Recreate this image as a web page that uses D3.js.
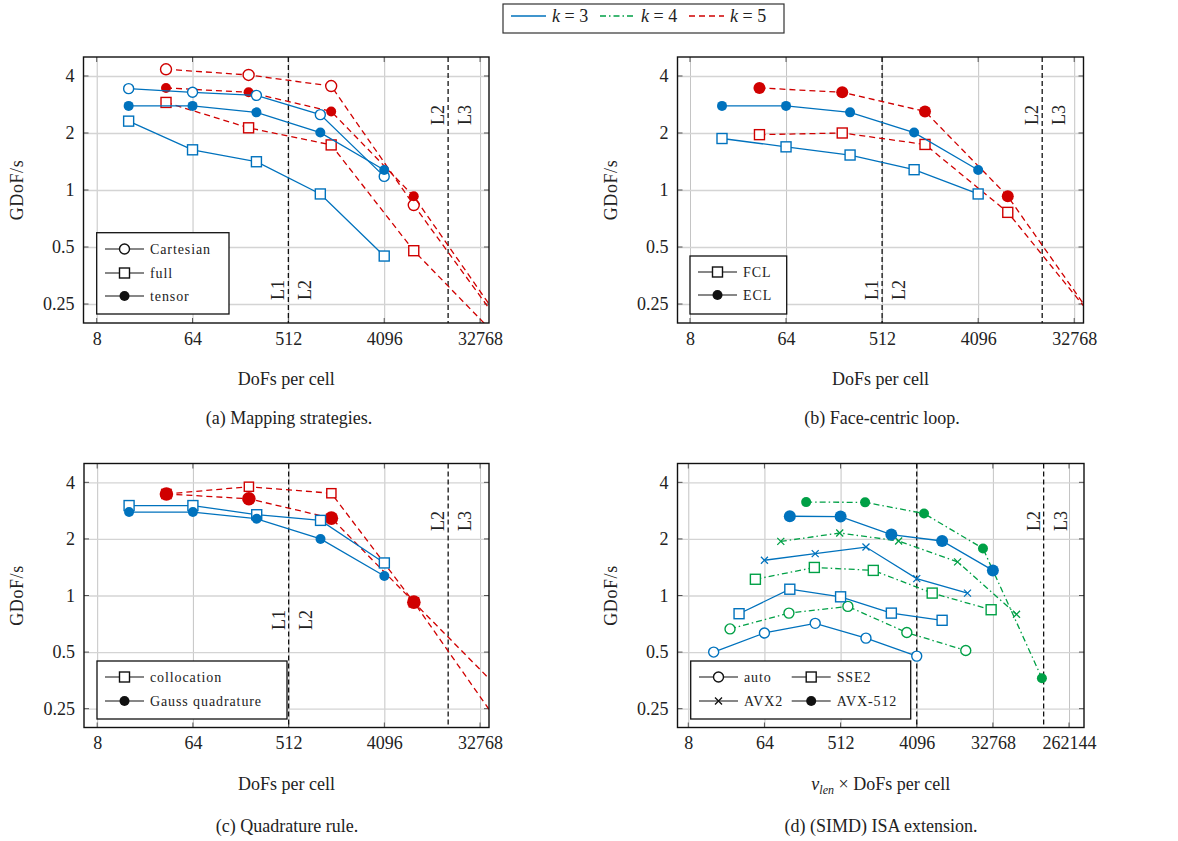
<!DOCTYPE html>
<html>
<head>
<meta charset="utf-8">
<script src="https://cdn.jsdelivr.net/npm/d3@7"></script>
<style>
  body { margin: 0; background: #fff; }
  svg text { font-family: "Liberation Serif", "DejaVu Serif", serif; fill: #222; }
</style>
</head>
<body>
<svg id="chart" width="1178" height="841"></svg>
<script>
// ---- data ----
var k3Dofs = [16, 64, 256, 1024, 4096];
var k5Dofs = [36, 216, 1296, 7776, 46656];

var xTicksABC = [8, 64, 512, 4096, 32768];
var xTicksD = [8, 64, 512, 4096, 32768, 262144];
var yTicks = [0.25, 0.5, 1, 2, 4];

var cacheLinesABC = [512, 16384];
var cacheLinesD = [4096, 131072];

// (a) mapping strategies
var aK3Cartesian = [3.43, 3.28, 3.16, 2.50, 1.18];
var aK3Full      = [2.31, 1.63, 1.41, 0.953, 0.448];
var aK3Tensor    = [2.78, 2.78, 2.57, 2.01, 1.275];
var aK5Cartesian = [4.34, 4.05, 3.54, 0.833, 0.21];
var aK5Full      = [2.90, 2.13, 1.73, 0.478, 0.17];
var aK5Tensor    = [3.46, 3.28, 2.60, 0.926, 0.22];

// (b) face-centric loop
var bK3FCL = [1.87, 1.69, 1.53, 1.28, 0.953];
var bK3ECL = [2.78, 2.78, 2.57, 2.01, 1.275];
var bK5FCL = [1.96, 2.00, 1.74, 0.762, 0.22];
var bK5ECL = [3.46, 3.28, 2.60, 0.926, 0.222];

// (c) quadrature rule
var cK3Colloc = [3.01, 3.01, 2.69, 2.51, 1.49];
var cK3Gauss  = [2.78, 2.78, 2.56, 2.00, 1.27];
var cK5Colloc = [3.47, 3.79, 3.50, 0.92, 0.33];
var cK5Gauss  = [3.47, 3.27, 2.58, 0.922, 0.218];

// (d) ISA extension, x = vlen * DoFs per cell
var dK3AutoX   = [16, 64, 256, 1024, 4096];
var dK3SSE2X   = [32, 128, 512, 2048, 8192];
var dK3AVX2X   = [64, 256, 1024, 4096, 16384];
var dK3AVX512X = [128, 512, 2048, 8192, 32768];
var dK4AutoX   = [25, 125, 625, 3125, 15625];
var dK4SSE2X   = [50, 250, 1250, 6250, 31250];
var dK4AVX2X   = [100, 500, 2500, 12500, 62500];
var dK4AVX512X = [200, 1000, 5000, 25000, 125000];

var dK3Auto   = [0.50, 0.632, 0.711, 0.593, 0.476];
var dK3SSE2   = [0.80, 1.08, 0.984, 0.806, 0.738];
var dK3AVX2   = [1.54, 1.67, 1.81, 1.23, 1.03];
var dK3AVX512 = [2.64, 2.63, 2.11, 1.95, 1.36];
var dK4Auto   = [0.664, 0.806, 0.875, 0.635, 0.51];
var dK4SSE2   = [1.22, 1.41, 1.36, 1.03, 0.84];
var dK4AVX2   = [1.94, 2.15, 1.95, 1.51, 0.794];
var dK4AVX512 = [3.14, 3.13, 2.73, 1.78, 0.363];

// ---- styles ----
var colors = {3: "#0072bd", 4: "#00a046", 5: "#d00000"};
var dashes = {3: null, 4: "6,3,1.5,3", 5: "6,4"};

var svg = d3.select("#chart");

function addMarker(g, type, cx, cy, r, color) {
  if (type === "circle") {
    g.append("circle").attr("cx", cx).attr("cy", cy).attr("r", r)
      .attr("fill", "#fff").attr("stroke", color).attr("stroke-width", 1.4);
  } else if (type === "dot") {
    g.append("circle").attr("cx", cx).attr("cy", cy).attr("r", r)
      .attr("fill", color);
  } else if (type === "square") {
    g.append("rect").attr("x", cx - r).attr("y", cy - r)
      .attr("width", 2 * r).attr("height", 2 * r)
      .attr("fill", "#fff").attr("stroke", color).attr("stroke-width", 1.4);
  } else if (type === "cross") {
    g.append("path")
      .attr("d", "M" + (cx - r) + "," + (cy - r) + "L" + (cx + r) + "," + (cy + r) +
                 "M" + (cx - r) + "," + (cy + r) + "L" + (cx + r) + "," + (cy - r))
      .attr("stroke", color).attr("stroke-width", 1.3);
  }
}

function drawPanel(p) {
  var g = svg.append("g");
  var w = p.right - p.left, h = p.bottom - p.top;
  var x = d3.scaleLog().base(2).domain(p.xDomain).range([p.left, p.right]);
  var y = d3.scaleLog().base(2).domain([Math.pow(2, -2.333), Math.pow(2, 2.333)]).range([p.bottom, p.top]);

  var clipId = "clip-" + p.id;
  svg.append("clipPath").attr("id", clipId)
    .append("rect").attr("x", p.left).attr("y", p.top).attr("width", w).attr("height", h);

  // grid
  g.append("g").attr("transform", "translate(0," + p.bottom + ")")
    .call(d3.axisBottom(x).tickValues(p.xTicks).tickSize(-h).tickFormat(""))
    .call(function(s) { s.select(".domain").remove(); })
    .selectAll("line").attr("stroke", "#c4c4c4").attr("stroke-width", 1);
  g.append("g").attr("transform", "translate(" + p.left + ",0)")
    .call(d3.axisLeft(y).tickValues(yTicks).tickSize(-w).tickFormat(""))
    .call(function(s) { s.select(".domain").remove(); })
    .selectAll("line").attr("stroke", "#d4d4d4").attr("stroke-width", 1.3);

  // inner tick marks
  p.xTicks.forEach(function(t) {
    g.append("line").attr("x1", x(t)).attr("x2", x(t)).attr("y1", p.bottom).attr("y2", p.bottom - 5).attr("stroke", "#555");
    g.append("line").attr("x1", x(t)).attr("x2", x(t)).attr("y1", p.top).attr("y2", p.top + 5).attr("stroke", "#555");
  });
  yTicks.forEach(function(t) {
    g.append("line").attr("x1", p.left).attr("x2", p.left + 5).attr("y1", y(t)).attr("y2", y(t)).attr("stroke", "#555");
    g.append("line").attr("x1", p.right).attr("x2", p.right - 5).attr("y1", y(t)).attr("y2", y(t)).attr("stroke", "#555");
  });

  // tick labels
  g.append("g").attr("transform", "translate(0," + p.bottom + ")")
    .call(d3.axisBottom(x).tickValues(p.xTicks).tickSize(0).tickPadding(9).tickFormat(d3.format("d")))
    .call(function(s) { s.select(".domain").remove(); })
    .selectAll("text").style("font-size", "18px").style("font-family", "Liberation Serif, serif").attr("fill", "#222");
  g.append("g").attr("transform", "translate(" + p.left + ",0)")
    .call(d3.axisLeft(y).tickValues(yTicks).tickSize(0).tickPadding(9).tickFormat(function(d) { return String(d); }))
    .call(function(s) { s.select(".domain").remove(); })
    .selectAll("text").style("font-size", "18px").style("font-family", "Liberation Serif, serif").attr("fill", "#222");

  var plot = g.append("g").attr("clip-path", "url(#" + clipId + ")");

  // cache boundaries
  p.cacheLines.forEach(function(v) {
    plot.append("line").attr("x1", x(v)).attr("x2", x(v)).attr("y1", p.top).attr("y2", p.bottom)
      .attr("stroke", "#111").attr("stroke-width", 1.3).attr("stroke-dasharray", "5,3");
  });
  p.cacheLabels.forEach(function(l) {
    var bx = x(p.cacheLines[l.line]) + (l.side < 0 ? -4 : 23);
    var by = l.low ? p.lowLabelY : p.highLabelY;
    g.append("text").attr("transform", "translate(" + bx + "," + by + ") rotate(-90)")
      .attr("text-anchor", "start").style("font-size", "18px").text(l.text);
  });

  // series
  var line = d3.line().x(function(d) { return x(d[0]); }).y(function(d) { return y(d[1]); });
  p.series.forEach(function(s) {
    var pts = s.xs.map(function(v, i) { return [v, s.ys[i]]; });
    plot.append("path").datum(pts).attr("d", line)
      .attr("fill", "none").attr("stroke", colors[s.k]).attr("stroke-width", 1.3)
      .attr("stroke-dasharray", dashes[s.k]);
    pts.forEach(function(d) {
      addMarker(plot, s.marker, x(d[0]), y(d[1]), s.r, colors[s.k]);
    });
  });

  // box
  g.append("rect").attr("x", p.left).attr("y", p.top).attr("width", w).attr("height", h)
    .attr("fill", "none").attr("stroke", "#111").attr("stroke-width", 1.4);

  // legend
  var lg = p.legend;
  g.append("rect").attr("x", lg.x).attr("y", lg.y).attr("width", lg.w).attr("height", lg.h)
    .attr("fill", "#fff").attr("stroke", "#111").attr("stroke-width", 1.3);
  lg.items.forEach(function(it) {
    g.append("line").attr("x1", it.x).attr("x2", it.x + 39).attr("y1", it.y).attr("y2", it.y)
      .attr("stroke", "#111").attr("stroke-width", 1.2);
    addMarker(g, it.marker, it.x + 19.5, it.y, it.marker === "cross" ? 3.5 : 5, "#111");
    g.append("text").attr("x", it.x + 45).attr("y", it.y + 5)
      .style("font-size", "14px").style("letter-spacing", "0.9px").text(it.text);
  });

  // axis titles
  g.append("text").attr("transform", "translate(" + (p.left - 61) + "," + ((p.top + p.bottom) / 2) + ") rotate(-90)")
    .attr("text-anchor", "middle").style("font-size", "18px").style("letter-spacing", "0.6px").text("GDoF/s");
  var xl = g.append("text").attr("x", (p.left + p.right) / 2).attr("y", p.bottom + 62)
    .attr("text-anchor", "middle").style("font-size", "18px");
  if (p.vlen) {
    xl.append("tspan").style("font-style", "italic").text("v");
    xl.append("tspan").style("font-style", "italic").style("font-size", "12px").attr("dy", 4).text("len");
    xl.append("tspan").attr("dy", -4).text(" \u00d7 DoFs per cell");
  } else {
    xl.text("DoFs per cell");
  }

  // caption
  g.append("text").attr("x", p.capX).attr("y", p.bottom + p.capDy)
    .attr("text-anchor", "middle").style("font-size", "18px").text(p.caption);
}

var labelsABC = [
  {text: "L1", line: 0, side: -1, low: true},
  {text: "L2", line: 0, side: 1, low: true},
  {text: "L2", line: 1, side: -1, low: false},
  {text: "L3", line: 1, side: 1, low: false}
];

drawPanel({
  id: "a", left: 83.5, right: 489, top: 57, bottom: 323,
  xDomain: [Math.pow(2, 2.587), Math.pow(2, 15.28)], xTicks: xTicksABC,
  cacheLines: cacheLinesABC, cacheLabels: labelsABC, lowLabelY: 300, highLabelY: 125,
  series: [
    {xs: k5Dofs, ys: aK5Cartesian, k: 5, marker: "circle", r: 5.5},
    {xs: k5Dofs, ys: aK5Full, k: 5, marker: "square", r: 5},
    {xs: k5Dofs, ys: aK5Tensor, k: 5, marker: "dot", r: 5},
    {xs: k3Dofs, ys: aK3Cartesian, k: 3, marker: "circle", r: 5},
    {xs: k3Dofs, ys: aK3Full, k: 3, marker: "square", r: 5},
    {xs: k3Dofs, ys: aK3Tensor, k: 3, marker: "dot", r: 5}
  ],
  legend: {x: 96.7, y: 232.7, w: 132.3, h: 81.3, items: [
    {x: 105, y: 249, marker: "circle", text: "Cartesian"},
    {x: 105, y: 273, marker: "square", text: "full"},
    {x: 105, y: 296, marker: "dot", text: "tensor"}
  ]},
  capX: 289, capDy: 101, caption: "(a) Mapping strategies."
});

drawPanel({
  id: "b", left: 677.5, right: 1083.5, top: 57, bottom: 323,
  xDomain: [Math.pow(2, 2.61), Math.pow(2, 15.29)], xTicks: xTicksABC,
  cacheLines: cacheLinesABC, cacheLabels: labelsABC, lowLabelY: 300, highLabelY: 125,
  series: [
    {xs: k5Dofs, ys: bK5FCL, k: 5, marker: "square", r: 5},
    {xs: k5Dofs, ys: bK5ECL, k: 5, marker: "dot", r: 6},
    {xs: k3Dofs, ys: bK3FCL, k: 3, marker: "square", r: 5},
    {xs: k3Dofs, ys: bK3ECL, k: 3, marker: "dot", r: 5}
  ],
  legend: {x: 690, y: 256, w: 96.7, h: 58, items: [
    {x: 698, y: 272, marker: "square", text: "FCL"},
    {x: 698, y: 295, marker: "dot", text: "ECL"}
  ]},
  capX: 882, capDy: 101, caption: "(b) Face-centric loop."
});

drawPanel({
  id: "c", left: 84, right: 489, top: 463.5, bottom: 727.5,
  xDomain: [Math.pow(2, 2.587), Math.pow(2, 15.28)], xTicks: xTicksABC,
  cacheLines: cacheLinesABC, cacheLabels: labelsABC, lowLabelY: 630, highLabelY: 531,
  series: [
    {xs: k5Dofs, ys: cK5Colloc, k: 5, marker: "square", r: 4.6},
    {xs: k5Dofs, ys: cK5Gauss, k: 5, marker: "dot", r: 6.8},
    {xs: k3Dofs, ys: cK3Colloc, k: 3, marker: "square", r: 5},
    {xs: k3Dofs, ys: cK3Gauss, k: 3, marker: "dot", r: 5}
  ],
  legend: {x: 97, y: 661, w: 190, h: 58, items: [
    {x: 105, y: 677, marker: "square", text: "collocation"},
    {x: 105, y: 701, marker: "dot", text: "Gauss quadrature"}
  ]},
  capX: 287, capDy: 104, caption: "(c) Quadrature rule."
});

drawPanel({
  id: "d", left: 677.5, right: 1084, top: 463.5, bottom: 727.5, vlen: true,
  xDomain: [Math.pow(2, 2.575), Math.pow(2, 18.59)], xTicks: xTicksD,
  cacheLines: cacheLinesD, lowLabelY: 630, highLabelY: 531,
  cacheLabels: [
    {text: "L2", line: 1, side: -1, low: false},
    {text: "L3", line: 1, side: 1, low: false}
  ],
  series: [
    {xs: dK4AutoX, ys: dK4Auto, k: 4, marker: "circle", r: 5},
    {xs: dK4SSE2X, ys: dK4SSE2, k: 4, marker: "square", r: 5},
    {xs: dK4AVX2X, ys: dK4AVX2, k: 4, marker: "cross", r: 3.5},
    {xs: dK4AVX512X, ys: dK4AVX512, k: 4, marker: "dot", r: 5},
    {xs: dK3AutoX, ys: dK3Auto, k: 3, marker: "circle", r: 5},
    {xs: dK3SSE2X, ys: dK3SSE2, k: 3, marker: "square", r: 5},
    {xs: dK3AVX2X, ys: dK3AVX2, k: 3, marker: "cross", r: 3.5},
    {xs: dK3AVX512X, ys: dK3AVX512, k: 3, marker: "dot", r: 6}
  ],
  legend: {x: 690.7, y: 661, w: 220, h: 58, items: [
    {x: 699, y: 677, marker: "circle", text: "auto"},
    {x: 791.7, y: 677, marker: "square", text: "SSE2"},
    {x: 699, y: 701, marker: "cross", text: "AVX2"},
    {x: 791.7, y: 701, marker: "dot", text: "AVX-512"}
  ]},
  capX: 881, capDy: 104, caption: "(d) (SIMD) ISA extension."
});

// ---- top legend ----
var topLegend = [
  {k: 3, x: 511, label: "3"},
  {k: 4, x: 600, label: "4"},
  {k: 5, x: 689, label: "5"}
];
var tl = svg.append("g");
tl.append("rect").attr("x", 503).attr("y", 4).attr("width", 281).attr("height", 29)
  .attr("fill", "#fff").attr("stroke", "#333").attr("stroke-width", 1.2);
topLegend.forEach(function(e) {
  tl.append("line").attr("x1", e.x).attr("x2", e.x + 35).attr("y1", 16).attr("y2", 16)
    .attr("stroke", colors[e.k]).attr("stroke-width", 1.3).attr("stroke-dasharray", dashes[e.k]);
  var t = tl.append("text").attr("x", e.x + 41).attr("y", 22).style("font-size", "18px");
  t.append("tspan").style("font-style", "italic").text("k");
  t.append("tspan").text(" = " + e.label);
});
</script>
</body>
</html>
